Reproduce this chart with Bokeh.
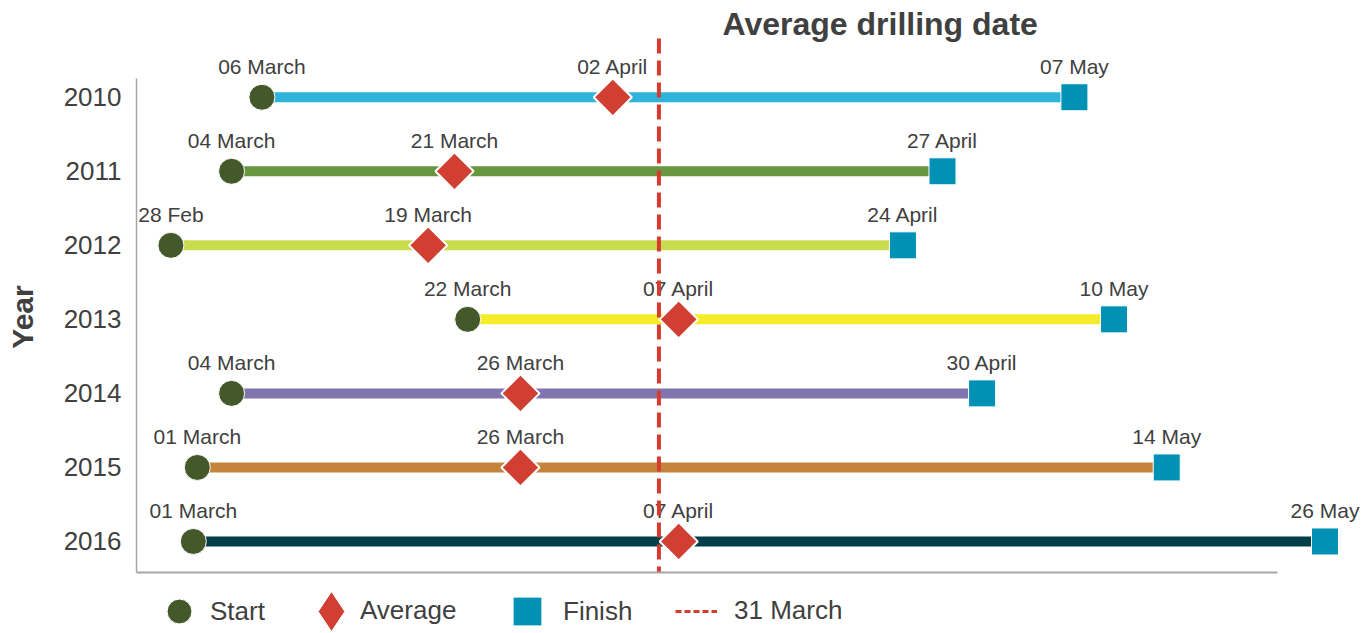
import math
from bokeh.plotting import figure
from bokeh.models import ColumnDataSource, Legend, LegendItem, Label, FixedTicker, Range1d
from bokeh.core.properties import value
from bokeh.embed import file_html
from bokeh.resources import INLINE

# ---------------- data (x values are day-of-year) ----------------
years = [2010, 2011, 2012, 2013, 2014, 2015, 2016]
start_day = [65.4, 63.1, 58.5, 81.0, 63.1, 60.5, 60.2]
avg_day = [92, 80, 78, 97, 85, 85, 97]
finish_day = [127, 117, 114, 130, 120, 134, 146]
start_label = ["06 March", "04 March", "28 Feb", "22 March", "04 March", "01 March", "01 March"]
avg_label = ["02 April", "21 March", "19 March", "07 April", "26 March", "26 March", "07 April"]
finish_label = ["07 May", "27 April", "24 April", "10 May", "30 April", "14 May", "26 May"]
line_colors = ["#2EB3DA", "#66963F", "#C9DC4E", "#F7EC2A", "#8075AE", "#C6833C", "#003F49"]
ref_day = [95.5]
ref_label = "31 March"

FONT = "Liberation Sans"
TXT = "#404040"

# layout constants (plot-area geometry, not data)
X_RANGE = (55.89, 149.07)
Y_RANGE = (2017.243, 2008.693)
Y_AXIS_BOUNDS = (2009.747, 2016.419)
X_AXIS_END = 142.4
REF_TOP = 2009.207

src = ColumnDataSource(dict(
    year=years, start=start_day, avg=avg_day, finish=finish_day,
    start_label=start_label, avg_label=avg_label, finish_label=finish_label,
    color=line_colors,
))

p = figure(width=1365, height=633, output_backend="svg", toolbar_location=None,
           x_range=Range1d(*X_RANGE), y_range=Range1d(*Y_RANGE),
           min_border_left=136, min_border_right=0, min_border_top=0, min_border_bottom=0)
p.outline_line_color = None
p.grid.visible = False
p.background_fill_color = "white"

# axes
p.xaxis.ticker = FixedTicker(ticks=[])
p.xaxis.fixed_location = Y_AXIS_BOUNDS[1]
p.xaxis.axis_line_color = "#A6A6A6"
p.xaxis.axis_line_width = 2
p.xaxis.major_tick_line_color = None
p.xaxis.minor_tick_line_color = None
p.xaxis.bounds = (X_RANGE[0], X_AXIS_END)

p.yaxis.ticker = FixedTicker(ticks=years)
p.yaxis.major_label_overrides = {y: str(y) for y in years}
p.yaxis.axis_line_color = "#A6A6A6"
p.yaxis.axis_line_width = 1.5
p.yaxis.major_tick_line_color = None
p.yaxis.minor_tick_line_color = None
p.yaxis.major_tick_out = 0
p.yaxis.major_tick_in = 0
p.yaxis.major_label_standoff = 15
p.yaxis.major_label_text_font = FONT
p.yaxis.major_label_text_font_size = "26px"
p.yaxis.major_label_text_color = TXT
p.yaxis.axis_label = "Year"
p.yaxis.axis_label_text_font = FONT
p.yaxis.axis_label_text_font_size = "30px"
p.yaxis.axis_label_text_font_style = "bold"
p.yaxis.axis_label_text_color = TXT
p.yaxis.axis_label_standoff = 22
p.yaxis.bounds = Y_AXIS_BOUNDS

# bars
p.segment(x0="start", y0="year", x1="finish", y1="year", line_color="color",
          line_width=10, source=src)

# labels
for col, lab in (("start", "start_label"), ("avg", "avg_label"), ("finish", "finish_label")):
    p.text(x=col, y="year", text=lab, source=src, text_align="center",
           text_baseline="alphabetic", y_offset=-31, text_font=value(FONT),
           text_font_size="21px", text_color=TXT)

# reference line (from the top of the plot area down to the x axis)
ref_src = ColumnDataSource(dict(x=ref_day, y0=[REF_TOP], y1=[Y_AXIS_BOUNDS[1]]))
p.segment(x0="x", y0="y0", x1="x", y1="y1", source=ref_src, line_color="#D63B2F",
          line_width=4, line_dash="15 7")

# markers
r_start = p.scatter(x="start", y="year", source=src, marker="circle", size=26,
                    fill_color="#44592A", line_color="white", line_width=1)
p.scatter(x="avg", y="year", source=src, marker="square", angle=math.pi / 4,
          size=27, fill_color="#D13F32", line_color="white", line_width=2)
r_fin = p.scatter(x="finish", y="year", source=src, marker="square", size=27,
                  fill_color="#0091B5", line_color="white", line_width=1)

# hidden renderers that only provide the legend symbols
r_avg_leg = p.scatter(x="avg", y="year", source=src, marker="diamond", fill_color="#D13F32",
                      line_color="white", line_width=1, visible=False)
r_blank = p.scatter(x="avg", y="year", source=src, marker="circle", fill_alpha=0,
                    line_alpha=0, visible=False)
r_ref_leg = p.segment(x0="x", y0="y0", x1="x", y1="y1", source=ref_src,
                      line_color="#D63B2F", line_width=3, line_dash="6 3", visible=False)

# title
p.add_layout(Label(x=586, y=610, x_units="screen", y_units="screen",
                   text="Average drilling date", text_font=FONT, text_font_size="32px",
                   text_font_style="bold", text_color=TXT, text_align="left",
                   text_baseline="alphabetic"))

# legend (one per item so each symbol can have its own size)
def add_leg(label, rend, gw, gh, vx, vy, standoff):
    lg = Legend(items=[LegendItem(label=label, renderers=[rend])], location=(vx, vy),
                orientation="horizontal", glyph_width=gw, glyph_height=gh,
                label_standoff=standoff, label_text_font=FONT, label_text_font_size="26px",
                label_text_color=TXT, label_height=30, padding=0, margin=0, spacing=0,
                border_line_color=None, background_fill_alpha=0, inactive_fill_alpha=0)
    p.add_layout(lg, "center")

add_leg("Start", r_start, 62, 62, 12, -9, 0)
add_leg(" ", r_avg_leg, 100, 100, 145, -28, 0)
add_leg("Average", r_blank, 1, 30, 223, 7, 0)
add_leg("Finish", r_fin, 72, 72, 355, -14, 0)
add_leg(ref_label, r_ref_leg, 42, 30, 539, 7, 17)

open("out.html", "w").write(file_html(p, INLINE))
